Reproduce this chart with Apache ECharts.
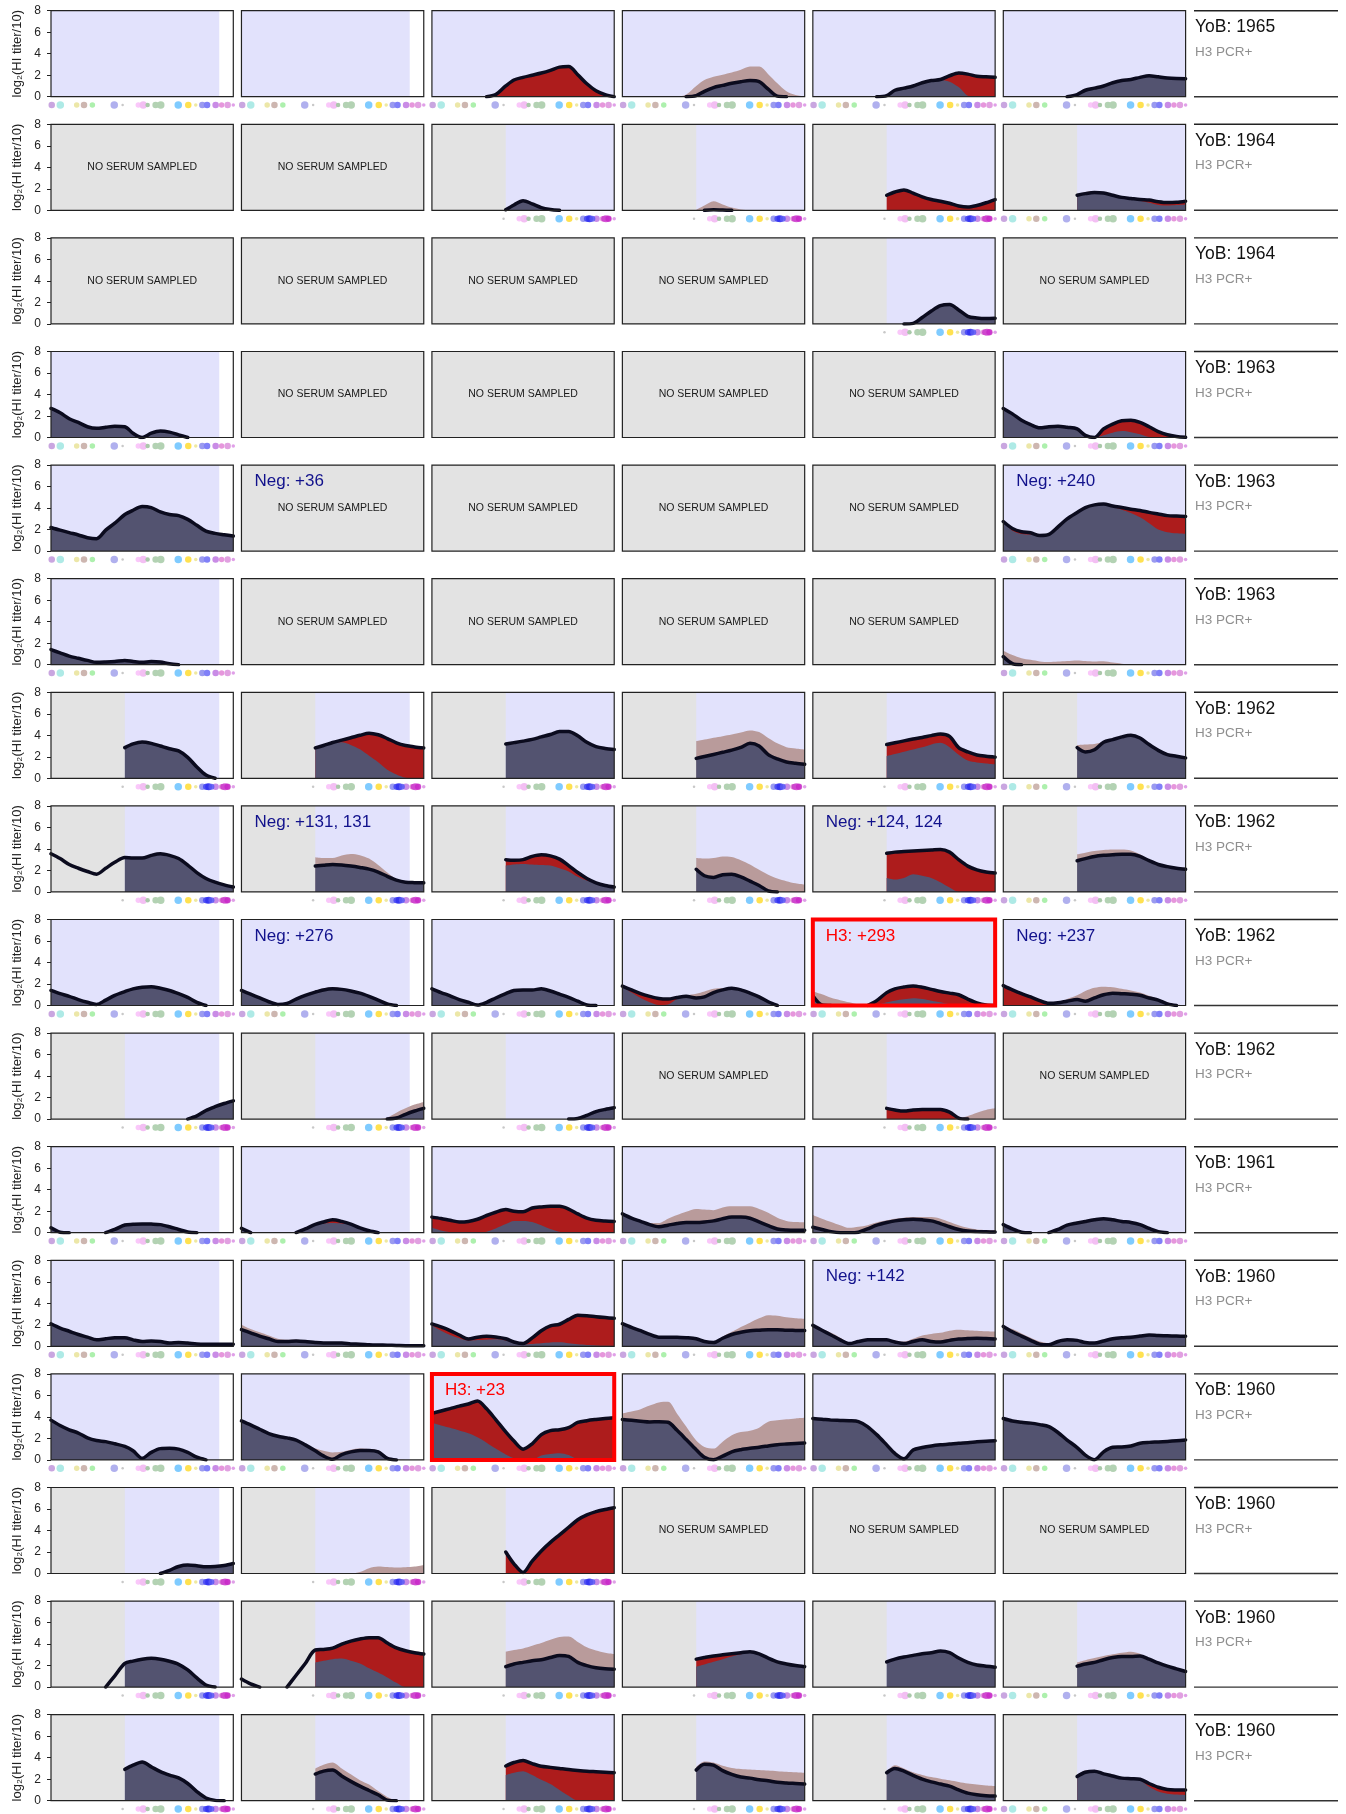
<!DOCTYPE html>
<html>
<head>
<meta charset="utf-8">
<title>HI titer landscapes</title>
<script src="https://cdn.jsdelivr.net/npm/echarts@6/dist/echarts.min.js"></script>
<style>
  html, body { margin: 0; background: #fff; }
  #chart { width: 1346px; height: 1814px; }
</style>
</head>
<body>
<div id="chart"></div>
<script>
// late-sampled sera only have values from the grey/blue boundary onwards
const L = v => Array(8).fill(null).concat(v)

// x positions (% of the strain axis) shared by every curve
const xPos = [0, 5, 10, 15, 20, 25, 30, 35, 40.5, 45, 50, 55, 60, 65, 70, 75, 80, 85, 90, 95, 100]

const yob = ['1965', '1964', '1964', '1963', '1963', '1963', '1962', '1962', '1962', '1962', '1961', '1960', '1960', '1960', '1960', '1960']
// E = sampled, empty; F = full curve; L = late start; N = no serum sampled
const panelCodes = ['EEFFFF', 'NNLLLL', 'NNNNLN', 'FNNNNF', 'FNNNNF', 'FNNNNF', 'LLLLLL', 'LLLLLL',
  'FFFFFF', 'LLLNLN', 'FFFFFF', 'FFFFFF', 'FFFFFF', 'LLLNNN', 'LLLLLL', 'LLLLLL']

// notes written in a panel: [row, col]
const noteCells = [[4, 1], [4, 5], [7, 1], [7, 4], [8, 1], [8, 5], [11, 4], [8, 4], [12, 2]]
const noteTexts = ['Neg: +36', 'Neg: +240', 'Neg: +131, 131', 'Neg: +124, 124', 'Neg: +276', 'Neg: +237', 'Neg: +142', 'H3: +293', 'H3: +23']

// strain markers under each panel
const strainPos = [0.4, 5.1, 14.1, 18.1, 22.7, 34.7, 39.3, 47.9, 50.6, 53, 57.4, 60.2, 69.8, 75.3, 79.4, 83, 85.6, 90.3, 93.6, 96.9, 100]
const strainColor = ['#c9a6e0', '#aeeae6', '#ece7a8', '#cdb6b0', '#adf0ad', '#b0b0ee', '#c8c8c8', '#fac8fa', '#f3bff3', '#a9c8a9', '#b3d2b3',
  '#b3d2b3', '#7fcbff', '#ffe150', '#efe9a0', '#9a9af0', '#8080f8', '#c98ce6', '#e696dc', '#e1a0e1', '#e0a0e8']
const strainSize = [6, 7, 5, 6, 5, 7, 2, 5, 7, 4, 6, 7, 7, 6, 3, 6, 6, 6, 5, 6, 3]
const recentPos = [85, 86.5, 88, 94.5, 95.5, 96.8]
const recentColor = ['#4848f5', '#3030f0', '#5858f5', '#c838c8', '#d048d0', '#c828c8']
const recentSize = [6, 7, 6, 6, 7, 6]

// titer now (black line) per row; pre = earlier titer (null: same as now, 0: none)
const now01 = [null, null,
  [0, 0, 0, 0, 0, 0, 0, 0.2, 1.0, 1.55, 1.8, 2.0, 2.2, 2.45, 2.75, 2.8, 2.05, 1.2, 0.55, 0.2, 0],
  [0, 0, 0, 0, 0, 0, 0, 0, 0.1, 0.5, 0.85, 1.05, 1.25, 1.4, 1.5, 1.4, 0.7, 0.05, 0, 0, 0],
  [0, 0, 0, 0, 0, 0, 0, 0, 0.1, 0.6, 0.8, 1.0, 1.3, 1.5, 1.6, 1.95, 2.2, 2.1, 1.9, 1.85, 1.8],
  [0, 0, 0, 0, 0, 0, 0, 0, 0.2, 0.6, 0.8, 1.0, 1.3, 1.5, 1.6, 1.8, 1.95, 1.85, 1.75, 1.7, 1.68]]
const pre01 = [null, null, 0,
  [0, 0, 0, 0, 0, 0, 0, 0.2, 1.0, 1.55, 1.85, 2.05, 2.25, 2.5, 2.8, 2.8, 2.1, 1.25, 0.5, 0.15, 0],
  [0, 0, 0, 0, 0, 0, 0, 0, 0.1, 0.6, 0.8, 1.0, 1.3, 1.5, 1.55, 1.4, 0.9, 0.1, 0, 0, 0],
  null]

const now02 = [null, null,
  L([0.05, 0.5, 0.9, 0.6, 0.25, 0.08, 0, 0, 0, 0, 0, 0, 0]),
  L([0, 0, 0.05, 0.02, 0, 0, 0, 0, 0, 0, 0, 0, 0]),
  L([1.4, 1.7, 1.9, 1.6, 1.25, 1.0, 0.85, 0.65, 0.4, 0.3, 0.45, 0.7, 1.0]),
  L([1.4, 1.55, 1.65, 1.6, 1.4, 1.2, 1.1, 1.0, 0.95, 0.8, 0.72, 0.75, 0.85])]
const pre02 = [null, null, null,
  L([0.05, 0.45, 0.85, 0.55, 0.25, 0.08, 0, 0, 0, 0, 0, 0, 0]),
  0,
  L([1.4, 1.7, 1.8, 1.6, 1.4, 1.2, 1.05, 0.9, 0.7, 0.5, 0.45, 0.5, 0.55])]

const now03 = [null, null, null, null, L([0, 0, 0, 0.05, 0.6, 1.2, 1.7, 1.8, 1.3, 0.7, 0.55, 0.5, 0.52]), null]
const pre03 = [null, null, null, null, null, null]

const now04 = [[2.7, 2.3, 1.75, 1.4, 1.0, 0.85, 0.95, 1.05, 1.0, 0.4, 0, 0.4, 0.6, 0.5, 0.25, 0, 0, 0, 0, 0, 0], null, null, null, null,
  [2.7, 2.2, 1.6, 1.2, 0.9, 1.0, 1.05, 0.95, 0.8, 0.2, 0, 0.8, 1.25, 1.55, 1.6, 1.4, 1.0, 0.55, 0.25, 0.1, 0.02]]
const pre04 = [null, null, null, null, null,
  [2.7, 2.2, 1.6, 1.2, 0.9, 1.0, 1.05, 0.95, 0.8, 0.2, 0, 0.2, 0.45, 0.6, 0.5, 0.3, 0.05, 0, 0, 0, 0]]

const now05 = [[2.2, 1.95, 1.72, 1.5, 1.25, 1.15, 1.95, 2.6, 3.4, 3.8, 4.15, 4.05, 3.65, 3.4, 3.3, 2.95, 2.4, 1.85, 1.65, 1.52, 1.4], null, null, null, null,
  [2.75, 2.1, 1.8, 1.7, 1.45, 1.55, 2.25, 3.0, 3.6, 4.05, 4.3, 4.37, 4.2, 4.05, 3.9, 3.78, 3.6, 3.45, 3.3, 3.26, 3.23]]
const pre05 = [null, null, null, null, null,
  [2.75, 1.9, 1.6, 1.55, 1.45, 1.55, 2.25, 3.0, 3.6, 4.05, 4.3, 4.37, 4.1, 3.85, 3.55, 3.15, 2.6, 2.0, 1.75, 1.65, 1.6]]

const now06 = [[1.4, 1.1, 0.8, 0.6, 0.4, 0.22, 0.25, 0.3, 0.4, 0.3, 0.22, 0.3, 0.25, 0.08, 0, 0, 0, 0, 0, 0, 0], null, null, null, null,
  [0.75, 0.1, 0, 0, 0, 0, 0, 0, 0, 0, 0, 0, 0, 0, 0, 0, 0, 0, 0, 0, 0]]
const pre06 = [null, null, null, null, null,
  [1.3, 0.9, 0.6, 0.45, 0.3, 0.25, 0.3, 0.35, 0.4, 0.35, 0.3, 0.32, 0.2, 0.1, 0, 0, 0, 0, 0, 0, 0]]

const now07 = [
  L([2.85, 3.2, 3.38, 3.25, 3.0, 2.75, 2.55, 1.95, 1.05, 0.3, 0, 0, 0]),
  L([2.83, 3.05, 3.33, 3.55, 3.77, 4.0, 4.2, 4.05, 3.7, 3.3, 3.05, 2.92, 2.83]),
  L([3.2, 3.32, 3.46, 3.62, 3.85, 4.07, 4.35, 4.35, 3.95, 3.35, 2.95, 2.78, 2.68]),
  L([1.85, 2.03, 2.22, 2.42, 2.62, 2.88, 3.25, 3.0, 2.2, 1.8, 1.52, 1.4, 1.3]),
  L([3.14, 3.3, 3.48, 3.65, 3.8, 3.97, 4.12, 3.9, 2.85, 2.45, 2.17, 2.05, 1.97]),
  L([2.85, 2.45, 2.65, 3.35, 3.6, 3.85, 4.0, 3.75, 3.14, 2.6, 2.2, 2.05, 1.9])]
const pre07 = [null,
  L([2.83, 3.05, 3.3, 3.35, 3.1, 2.7, 2.1, 1.5, 0.8, 0.35, 0.05, 0, 0]),
  null,
  L([3.45, 3.6, 3.77, 3.92, 4.07, 4.25, 4.45, 4.3, 3.75, 3.25, 2.9, 2.78, 2.68]),
  L([2.06, 2.25, 2.47, 2.68, 2.88, 3.15, 3.3, 2.9, 2.2, 1.65, 1.48, 1.38, 1.3]),
  L([3.1, 3.15, 3.2, 3.4, 3.6, 3.85, 4.0, 3.75, 3.14, 2.6, 2.2, 2.05, 1.9])]

const now08 = [
  [3.55, 3.1, 2.55, 2.2, 1.9, 1.65, 2.2, 2.75, 3.2, 3.15, 3.15, 3.4, 3.55, 3.4, 3.1, 2.5, 1.8, 1.25, 0.9, 0.65, 0.45],
  L([2.4, 2.48, 2.55, 2.5, 2.4, 2.27, 2.12, 1.85, 1.45, 1.1, 0.9, 0.86, 0.84]),
  L([3.0, 2.95, 3.0, 3.3, 3.45, 3.35, 3.05, 2.45, 1.8, 1.25, 0.85, 0.6, 0.45]),
  L([2.1, 1.5, 1.35, 1.6, 1.65, 1.4, 1.0, 0.6, 0.1, 0, 0, 0, 0]),
  L([3.6, 3.7, 3.75, 3.8, 3.85, 3.9, 3.95, 3.7, 3.0, 2.4, 2.05, 1.85, 1.75]),
  L([2.9, 3.1, 3.3, 3.4, 3.45, 3.5, 3.5, 3.3, 2.9, 2.55, 2.35, 2.2, 2.1])]
const pre08 = [null,
  L([3.23, 3.15, 3.15, 3.38, 3.52, 3.42, 3.1, 2.5, 1.8, 1.2, 0.98, 0.88, 0.84]),
  L([2.45, 2.55, 2.6, 2.55, 2.5, 2.45, 2.2, 1.9, 1.4, 1.05, 0.8, 0.6, 0.45]),
  L([3.15, 3.1, 3.15, 3.3, 3.25, 2.95, 2.55, 2.05, 1.6, 1.25, 1.0, 0.8, 0.68]),
  L([1.3, 1.15, 1.3, 1.65, 1.5, 1.3, 0.9, 0.4, 0, 0, 0, 0, 0]),
  L([3.5, 3.65, 3.8, 3.9, 3.95, 3.95, 3.85, 3.5, 3.0, 2.65, 2.45, 2.3, 2.25])]

const now09 = [
  [1.4, 1.1, 0.85, 0.55, 0.3, 0.1, 0.5, 0.95, 1.3, 1.55, 1.7, 1.75, 1.6, 1.4, 1.1, 0.75, 0.3, 0, 0, 0, 0],
  [1.4, 1.05, 0.7, 0.35, 0.1, 0.2, 0.6, 0.95, 1.25, 1.45, 1.55, 1.5, 1.35, 1.15, 0.85, 0.5, 0.15, 0, 0, 0, 0],
  [1.55, 1.2, 0.9, 0.55, 0.3, 0.05, 0.3, 0.7, 1.1, 1.4, 1.45, 1.45, 1.55, 1.35, 1.05, 0.75, 0.4, 0.05, 0, 0, 0],
  [1.8, 1.45, 1.1, 0.85, 0.65, 0.6, 0.75, 0.85, 0.7, 0.8, 1.2, 1.45, 1.6, 1.45, 1.15, 0.8, 0.35, 0, 0, 0, 0],
  [0.9, 0.05, 0, 0, 0, 0, 0, 0.45, 1.2, 1.55, 1.72, 1.82, 1.7, 1.5, 1.3, 1.15, 1.0, 0.6, 0.25, 0.05, 0],
  [1.85, 1.45, 1.1, 0.8, 0.45, 0.2, 0.25, 0.4, 0.55, 0.4, 0.7, 1.0, 1.15, 1.1, 1.05, 0.95, 0.7, 0.5, 0.15, 0, 0]]
const pre09 = [null,
  [1.4, 1.05, 0.7, 0.35, 0.1, 0.2, 0.6, 1.0, 1.35, 1.6, 1.7, 1.6, 1.4, 1.15, 0.85, 0.5, 0.15, 0, 0, 0, 0],
  null,
  [1.8, 1.2, 0.7, 0.3, 0.05, 0.1, 0.6, 0.95, 1.1, 1.3, 1.55, 1.6, 1.6, 1.45, 1.15, 0.8, 0.35, 0, 0, 0, 0],
  [1.3, 1.05, 0.72, 0.5, 0.3, 0.1, 0, 0.05, 0.3, 0.45, 0.57, 0.68, 0.6, 0.45, 0.3, 0.12, 0, 0, 0, 0, 0],
  [0, 0, 0, 0, 0, 0, 0.25, 0.6, 0.95, 1.35, 1.65, 1.75, 1.7, 1.55, 1.4, 1.2, 0.9, 0.6, 0.3, 0.1, 0]]

const now10 = [
  L([0, 0, 0, 0, 0, 0, 0, 0, 0.3, 0.8, 1.15, 1.45, 1.7]),
  L([0, 0, 0, 0, 0, 0, 0, 0, 0, 0.1, 0.45, 0.75, 1.0]),
  L([0, 0, 0, 0, 0, 0, 0, 0, 0.05, 0.35, 0.7, 0.9, 1.05]),
  null,
  L([1.0, 0.85, 0.75, 0.85, 0.9, 0.9, 0.9, 0.65, 0.1, 0, 0, 0, 0]),
  null]
const pre10 = [null,
  L([0, 0, 0, 0, 0, 0, 0, 0, 0.15, 0.6, 1.0, 1.35, 1.6]),
  null, null,
  L([0, 0, 0, 0, 0, 0, 0, 0, 0, 0.3, 0.6, 0.85, 1.0]),
  null]

const now11 = [
  [0.45, 0.05, 0, 0, 0, 0, 0, 0.3, 0.72, 0.78, 0.82, 0.8, 0.75, 0.55, 0.3, 0.06, 0, 0, 0, 0, 0],
  [0.4, 0, 0, 0, 0, 0, 0, 0.35, 0.78, 1.0, 1.2, 1.05, 0.8, 0.45, 0.18, 0, 0, 0, 0, 0, 0],
  [1.45, 1.32, 1.15, 1.0, 1.05, 1.25, 1.6, 1.9, 2.15, 2.0, 1.95, 2.3, 2.4, 2.45, 2.45, 2.2, 1.75, 1.35, 1.15, 1.08, 1.05],
  [1.75, 1.35, 1.05, 0.75, 0.55, 0.7, 0.85, 0.95, 0.95, 1.0, 1.1, 1.3, 1.45, 1.45, 1.35, 1.0, 0.65, 0.35, 0.25, 0.22, 0.22],
  [0.5, 0.3, 0.1, 0, 0, 0.05, 0.35, 0.7, 0.95, 1.1, 1.2, 1.25, 1.2, 1.1, 0.85, 0.55, 0.3, 0.15, 0.1, 0.08, 0.06],
  [0.75, 0.35, 0.05, 0, 0, 0, 0.3, 0.7, 0.9, 1.05, 1.2, 1.3, 1.2, 1.05, 0.95, 0.75, 0.4, 0.1, 0, 0, 0]]
const pre11 = [null,
  [0.4, 0, 0, 0, 0, 0, 0, 0.35, 0.78, 0.85, 0.9, 0.85, 0.75, 0.45, 0.18, 0, 0, 0, 0, 0, 0],
  [0.45, 0.2, 0.05, 0, 0, 0, 0.1, 0.4, 0.8, 1.1, 1.1, 1.0, 0.7, 0.35, 0.1, 0, 0, 0, 0, 0, 0],
  [1.75, 1.35, 1.05, 0.9, 0.9, 1.3, 1.65, 1.95, 2.2, 2.15, 2.1, 2.35, 2.45, 2.45, 2.45, 2.2, 1.85, 1.4, 1.1, 1.0, 0.98],
  [1.65, 1.3, 1.0, 0.7, 0.45, 0.55, 0.7, 0.95, 1.15, 1.3, 1.4, 1.45, 1.45, 1.45, 1.3, 1.0, 0.7, 0.45, 0.3, 0.25, 0.22],
  null]

const now12 = [
  [2.1, 1.7, 1.4, 1.1, 0.85, 0.6, 0.7, 0.8, 0.8, 0.6, 0.45, 0.5, 0.45, 0.3, 0.35, 0.3, 0.22, 0.2, 0.2, 0.2, 0.2],
  [1.55, 1.25, 0.95, 0.7, 0.45, 0.45, 0.5, 0.45, 0.35, 0.3, 0.3, 0.3, 0.22, 0.2, 0.15, 0.12, 0.1, 0.08, 0.06, 0.06, 0.06],
  [2.08, 1.8, 1.46, 1.05, 0.68, 0.85, 0.93, 0.87, 0.7, 0.4, 0.25, 0.78, 1.45, 1.9, 2.05, 2.5, 2.9, 2.85, 2.75, 2.67, 2.6],
  [2.1, 1.75, 1.45, 1.1, 0.85, 0.85, 0.85, 0.8, 0.7, 0.45, 0.35, 0.75, 1.1, 1.3, 1.45, 1.5, 1.55, 1.55, 1.5, 1.48, 1.46],
  [1.95, 1.5, 1.05, 0.6, 0.25, 0.45, 0.6, 0.62, 0.6, 0.4, 0.25, 0.45, 0.6, 0.45, 0.4, 0.55, 0.68, 0.72, 0.75, 0.72, 0.68],
  [1.85, 1.35, 0.95, 0.55, 0.2, 0.15, 0.45, 0.6, 0.55, 0.35, 0.3, 0.5, 0.7, 0.8, 0.85, 0.95, 1.05, 1.0, 0.98, 0.95, 0.93]]
const pre12 = [null,
  [2.0, 1.6, 1.3, 1.0, 0.7, 0.6, 0.6, 0.55, 0.45, 0.35, 0.3, 0.3, 0.25, 0.2, 0.15, 0.12, 0.1, 0.08, 0.06, 0.06, 0.06],
  [1.93, 1.45, 1.05, 0.75, 0.53, 0.58, 0.62, 0.66, 0.55, 0.3, 0.2, 0.22, 0.28, 0.35, 0.37, 0.28, 0.18, 0.12, 0.08, 0.06, 0.06],
  [2.1, 1.75, 1.45, 1.1, 0.85, 0.85, 0.85, 0.8, 0.7, 0.45, 0.35, 0.9, 1.35, 1.8, 2.2, 2.6, 2.9, 2.85, 2.7, 2.6, 2.55],
  [1.95, 1.6, 1.25, 0.8, 0.35, 0.55, 0.65, 0.65, 0.65, 0.55, 0.45, 0.7, 1.0, 1.15, 1.25, 1.45, 1.55, 1.5, 1.45, 1.4, 1.37],
  [1.9, 1.6, 1.2, 0.8, 0.45, 0.3, 0.5, 0.62, 0.58, 0.4, 0.3, 0.5, 0.7, 0.8, 0.85, 0.95, 1.05, 1.0, 0.98, 0.95, 0.93]]

const now13 = [
  [3.7, 3.2, 2.8, 2.5, 2.05, 1.8, 1.7, 1.5, 1.25, 0.85, 0.15, 0.7, 1.05, 1.08, 1.0, 0.7, 0.25, 0, 0, 0, 0],
  [3.63, 3.25, 2.85, 2.45, 2.2, 2.05, 1.85, 1.4, 0.85, 0.37, 0.05, 0.5, 0.75, 0.87, 0.88, 0.75, 0.15, 0, 0, 0, 0],
  [4.33, 4.55, 4.77, 5.0, 5.2, 5.49, 4.75, 3.75, 2.6, 1.75, 1.0, 1.5, 2.35, 2.72, 2.8, 3.0, 3.48, 3.65, 3.76, 3.85, 3.92],
  [3.76, 3.68, 3.6, 3.53, 3.55, 3.5, 2.75, 1.9, 0.95, 0.25, 0.02, 0.35, 0.75, 0.95, 1.08, 1.18, 1.3, 1.42, 1.48, 1.53, 1.57],
  [3.85, 3.78, 3.7, 3.67, 3.64, 3.56, 3.1, 2.35, 1.4, 0.6, 0.1, 0.92, 1.15, 1.3, 1.4, 1.47, 1.55, 1.6, 1.68, 1.74, 1.78],
  [3.85, 3.62, 3.5, 3.42, 3.28, 3.1, 2.55, 1.85, 1.15, 0.45, 0.02, 0.75, 1.17, 1.2, 1.3, 1.55, 1.63, 1.67, 1.72, 1.78, 1.85]]
const pre13 = [null,
  [3.63, 3.25, 2.85, 2.45, 2.2, 2.05, 1.85, 1.45, 1.05, 0.85, 0.7, 0.75, 0.95, 1.05, 1.0, 0.9, 0.3, 0.05, 0, 0, 0],
  [3.45, 3.2, 2.98, 2.73, 2.47, 2.1, 1.6, 1.05, 0.5, 0.15, 0, 0, 0.4, 0.55, 0.62, 0.45, 0.05, 0, 0, 0, 0],
  [4.33, 4.5, 4.72, 5.05, 5.35, 5.4, 4.3, 3.1, 1.8, 1.2, 1.05, 1.7, 2.3, 2.6, 2.72, 3.0, 3.55, 3.68, 3.78, 3.86, 3.92],
  null, null]

const now14 = [
  L([0, 0, 0, 0, 0, 0.3, 0.65, 0.78, 0.72, 0.63, 0.66, 0.75, 0.93]),
  L([0, 0, 0, 0, 0, 0, 0, 0, 0, 0, 0, 0, 0]),
  L([2.0, 0.9, 0.1, 1.15, 2.1, 2.9, 3.6, 4.3, 5.0, 5.45, 5.75, 5.95, 6.12]),
  null, null, null]
const pre14 = [null,
  L([0, 0, 0, 0, 0, 0.15, 0.5, 0.65, 0.6, 0.55, 0.58, 0.65, 0.8]),
  0, null, null, null]

const now15 = [
  [null, null, null, null, null, null, 0, 1.05, 2.2, 2.42, 2.6, 2.68, 2.6, 2.4, 2.12, 1.6, 0.85, 0.2, 0, 0, 0],
  [0.75, 0.3, 0, 0, 0, 0, 1.1, 2.2, 3.45, 3.5, 3.62, 4.0, 4.28, 4.48, 4.6, 4.6, 4.1, 3.65, 3.38, 3.2, 3.08],
  L([1.9, 2.15, 2.3, 2.45, 2.55, 2.75, 2.95, 2.85, 2.3, 2.0, 1.8, 1.7, 1.66]),
  L([2.6, 2.75, 2.9, 3.0, 3.1, 3.2, 3.3, 3.1, 2.7, 2.35, 2.15, 2.0, 1.9]),
  L([2.35, 2.6, 2.8, 2.95, 3.1, 3.2, 3.35, 3.2, 2.7, 2.3, 2.05, 1.95, 1.85]),
  L([1.95, 2.15, 2.3, 2.55, 2.75, 2.85, 2.85, 2.9, 2.6, 2.25, 1.95, 1.7, 1.45])]
const pre15 = [null,
  L([2.28, 2.45, 2.6, 2.65, 2.45, 2.2, 1.75, 1.35, 0.9, 0.4, 0, 0, 0]),
  L([3.3, 3.45, 3.6, 3.85, 4.1, 4.4, 4.65, 4.7, 4.2, 3.7, 3.4, 3.2, 3.08]),
  L([1.9, 2.1, 2.35, 2.6, 2.85, 3.05, 3.25, 3.05, 2.6, 2.25, 2.05, 1.95, 1.85]),
  null,
  L([2.3, 2.5, 2.7, 2.9, 3.05, 3.2, 3.3, 3.1, 2.6, 2.25, 1.95, 1.7, 1.45])]

const now16 = [
  L([2.92, 3.3, 3.6, 3.15, 2.7, 2.38, 2.12, 1.6, 0.85, 0.25, 0.03, 0, 0]),
  L([2.48, 2.75, 2.85, 2.3, 1.8, 1.35, 0.95, 0.55, 0.05, 0, 0, 0, 0]),
  L([3.23, 3.55, 3.75, 3.45, 3.2, 3.1, 3.0, 2.9, 2.82, 2.75, 2.7, 2.65, 2.6]),
  L([2.85, 3.4, 3.3, 2.8, 2.45, 2.2, 2.1, 1.95, 1.85, 1.72, 1.65, 1.6, 1.55]),
  L([2.6, 3.0, 2.75, 2.35, 2.0, 1.75, 1.55, 1.35, 1.0, 0.7, 0.55, 0.47, 0.43]),
  L([2.25, 2.65, 2.75, 2.5, 2.3, 2.1, 2.05, 2.0, 1.6, 1.25, 1.05, 1.0, 0.99])]
const pre16 = [null,
  L([3.0, 3.35, 3.55, 3.0, 2.45, 1.9, 1.5, 0.9, 0.35, 0.03, 0, 0, 0]),
  L([2.39, 2.6, 2.75, 2.4, 1.95, 1.55, 1.0, 0.45, 0, 0, 0, 0, 0]),
  L([3.15, 3.65, 3.55, 3.25, 3.05, 2.95, 2.9, 2.85, 2.8, 2.75, 2.7, 2.65, 2.6]),
  L([2.7, 3.3, 3.0, 2.65, 2.4, 2.2, 2.05, 1.9, 1.75, 1.6, 1.5, 1.42, 1.37]),
  L([2.4, 2.8, 2.85, 2.5, 2.3, 2.1, 2.05, 1.9, 1.3, 0.85, 0.65, 0.57, 0.53])]

const nowRows = [now01, now02, now03, now04, now05, now06, now07, now08, now09, now10, now11, now12, now13, now14, now15, now16]
const preRows = [pre01, pre02, pre03, pre04, pre05, pre06, pre07, pre08, pre09, pre10, pre11, pre12, pre13, pre14, pre15, pre16]

const FONT = '"Liberation Sans", Arial, Helvetica, sans-serif'
const LAVENDER = '#e2e2fc'
const GREY = '#e3e3e3'
const NAVY = '#535370'
const RED = '#ad1c1c'
const BROWN = '#b99b9b'
const INK = '#0b0b1e'
const SMOOTH = 0.3
const DOT_Y = -0.78 // strain markers sit just under the panel

function panelBox(r, c) {
  return { left: 51 + c * 190.46, top: 10.7 + r * 113.6, width: 182.3, height: 86 }
}

const grid = []
const xAxis = []
const yAxis = []
const series = []
const graphic = []

function pts(values, from) {
  const out = []
  for (let i = from; i < xPos.length; i++) {
    if (values[i] !== null && values[i] !== undefined) out.push([xPos[i], values[i]])
  }
  return out
}

// a titer line lying flat on zero is hidden by the frame, so drop those stretches
function liftedLine(values) {
  return values.map((v, i) => {
    if (v !== 0) return v
    const p = i > 0 ? values[i - 1] : null
    const n = i < values.length - 1 ? values[i + 1] : null
    return (p === null || p === 0) && (n === null || n === 0) ? null : v
  })
}

function areaSeries(g, data, color) {
  return {
    type: 'line', xAxisIndex: g, yAxisIndex: g, data: data, smooth: SMOOTH,
    symbol: 'none', silent: true, z: 2,
    lineStyle: { width: 0 }, areaStyle: { color: color, opacity: 1 }
  }
}

panelCodes.forEach((codes, r) => {
  for (let c = 0; c < 6; c++) {
    const code = codes[c]
    const box = panelBox(r, c)
    const g = grid.length
    grid.push(Object.assign({ show: true, backgroundColor: code === 'N' ? GREY : LAVENDER, borderWidth: 0 }, box))
    xAxis.push({ gridIndex: g, type: 'value', min: 0, max: 100, show: false })
    if (c === 0) {
      yAxis.push({
        gridIndex: g, type: 'value', min: 0, max: 8, interval: 2,
        name: 'log₂(HI titer/10)', nameLocation: 'middle', nameGap: 27,
        nameTextStyle: { fontSize: 13, color: '#222', fontFamily: FONT },
        axisLine: { show: false },
        axisTick: { show: true, length: 4, lineStyle: { color: '#222', width: 1 } },
        axisLabel: { fontSize: 12, color: '#222', margin: 10, fontFamily: FONT },
        splitLine: { show: false }
      })
    } else {
      yAxis.push({ gridIndex: g, type: 'value', min: 0, max: 8, show: false })
    }

    graphic.push({
      type: 'rect', silent: true, z: 50,
      shape: { x: box.left, y: box.top, width: box.width, height: box.height },
      style: { fill: 'none', stroke: '#222', lineWidth: 1.2 }
    })

    if (code === 'N') {
      graphic.push({
        type: 'text', silent: true, z: 50,
        x: box.left + box.width / 2, y: box.top + box.height / 2,
        style: { text: 'NO SERUM SAMPLED', font: '10.5px ' + FONT, fill: '#1a1a1a', align: 'center', verticalAlign: 'middle' }
      })
      continue
    }

    // background bands: not yet sampled (grey), strains after sampling (white)
    const bands = []
    if (code === 'L') bands.push([{ xAxis: 0, itemStyle: { color: GREY } }, { xAxis: 40.5 }])
    if (c < 2) bands.push([{ xAxis: 92.3, itemStyle: { color: '#ffffff' } }, { xAxis: 100 }])

    const late = code === 'L' && c < 5
    const dots = []
    strainPos.forEach((p, i) => {
      if (late && p < 39) return
      dots.push({ value: [p, DOT_Y], symbolSize: strainSize[i] + 0.5, itemStyle: { color: strainColor[i], opacity: 1 } })
    })
    if (late) {
      recentPos.forEach((p, i) => {
        dots.push({ value: [p, DOT_Y], symbolSize: recentSize[i], itemStyle: { color: recentColor[i], opacity: 0.85 } })
      })
    }
    series.push({
      type: 'scatter', xAxisIndex: g, yAxisIndex: g, data: dots, clip: false, silent: true, z: 3,
      markArea: { silent: true, label: { show: false }, data: bands }
    })

    if (code === 'E') continue

    const now = nowRows[r][c]
    const rawPre = preRows[r][c]
    const pre = rawPre === null ? now : rawPre === 0 ? now.map(v => (v === null ? null : 0)) : rawPre
    const from = code === 'L' ? 8 : 0
    const hi = [], lo = []
    let anyUp = false, anyDown = false
    for (let i = 0; i < xPos.length; i++) {
      if (i < from || now[i] === null || pre[i] === null) { hi.push(null); lo.push(null); continue }
      hi.push(Math.max(now[i], pre[i]))
      lo.push(Math.min(now[i], pre[i]))
      if (pre[i] > now[i] + 0.001) anyDown = true
      if (now[i] > pre[i] + 0.001) anyUp = true
    }
    if (anyDown) series.push(areaSeries(g, pts(hi, from), BROWN))
    if (anyUp) series.push(areaSeries(g, pts(now, from), RED))
    series.push(areaSeries(g, pts(lo, from), NAVY))
    series.push({
      type: 'line', xAxisIndex: g, yAxisIndex: g, data: liftedLine(now).map((v, i) => [xPos[i], v]),
      smooth: SMOOTH, connectNulls: false, symbol: 'none', silent: true, z: 4,
      lineStyle: { color: INK, width: 3.5, cap: 'round', join: 'round' }
    })
  }

  // row label on the right
  const top = panelBox(r, 0).top
  graphic.push(
    { type: 'line', silent: true, z: 50, shape: { x1: 1194, y1: top, x2: 1338, y2: top }, style: { stroke: '#222', lineWidth: 1.4 } },
    { type: 'line', silent: true, z: 50, shape: { x1: 1194, y1: top + 86, x2: 1338, y2: top + 86 }, style: { stroke: '#333', lineWidth: 1.4 } },
    { type: 'text', silent: true, z: 50, x: 1195, y: top + 16.6, style: { text: 'YoB: ' + yob[r], font: '17.5px ' + FONT, fill: '#111', align: 'left', verticalAlign: 'middle' } },
    { type: 'text', silent: true, z: 50, x: 1195, y: top + 41.3, style: { text: 'H3 PCR+', font: '13.5px ' + FONT, fill: '#8f8f8f', align: 'left', verticalAlign: 'middle' } }
  )
})

// notes and highlighted panels
noteCells.forEach(([r, c], i) => {
  const box = panelBox(r, c)
  const isH3 = noteTexts[i].indexOf('H3') === 0
  if (isH3) {
    graphic.push({
      type: 'rect', silent: true, z: 60,
      shape: { x: box.left, y: box.top, width: box.width, height: box.height },
      style: { fill: 'none', stroke: '#ff0000', lineWidth: 4 }
    })
  }
  graphic.push({
    type: 'text', silent: true, z: 60, x: box.left + 13, y: box.top + 16.5,
    style: { text: noteTexts[i], font: '17px ' + FONT, fill: isH3 ? '#ff0000' : '#12128c', align: 'left', verticalAlign: 'middle' }
  })
})

const chart = echarts.init(document.getElementById('chart'))
chart.setOption({
  animation: false,
  backgroundColor: '#ffffff',
  textStyle: { fontFamily: FONT },
  grid: grid,
  xAxis: xAxis,
  yAxis: yAxis,
  series: series,
  graphic: { elements: graphic }
})
</script>
</body>
</html>
